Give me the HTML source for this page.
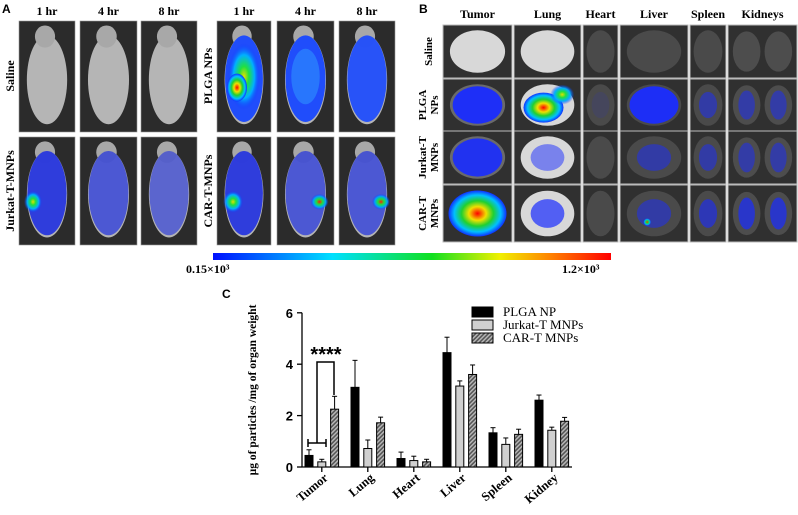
<!DOCTYPE html>
<html><head><meta charset="utf-8"><style>
body{margin:0;background:#fff;width:798px;height:515px;overflow:hidden;font-family:"Liberation Serif",serif}
svg{display:block}
</style></head><body>
<svg id="fig" width="798" height="515" viewBox="0 0 798 515">
<defs>
<linearGradient id="cbar" x1="0" x2="1" y1="0" y2="0">
<stop offset="0" stop-color="#0010ff"/><stop offset="0.3" stop-color="#00e0ff"/><stop offset="0.55" stop-color="#10e020"/><stop offset="0.72" stop-color="#f0f000"/><stop offset="0.85" stop-color="#ff8000"/><stop offset="1" stop-color="#ff0000"/>
</linearGradient>
<radialGradient id="hot"><stop offset="0" stop-color="#ff0000"/><stop offset="0.3" stop-color="#f0e000"/><stop offset="0.55" stop-color="#20d030"/><stop offset="0.8" stop-color="#00c0ff"/><stop offset="1" stop-color="#1030ff"/></radialGradient>
<radialGradient id="warm"><stop offset="0" stop-color="#e0e000"/><stop offset="0.3" stop-color="#20e040"/><stop offset="0.65" stop-color="#00b0ff"/><stop offset="1" stop-color="#1030ff" stop-opacity="0"/></radialGradient>
<radialGradient id="spot"><stop offset="0" stop-color="#ff2000"/><stop offset="0.35" stop-color="#20e040"/><stop offset="0.7" stop-color="#00a0ff"/><stop offset="1" stop-color="#1030ff" stop-opacity="0"/></radialGradient>
<pattern id="hatch" width="3" height="3" patternUnits="userSpaceOnUse" patternTransform="rotate(45)"><rect width="3" height="3" fill="#555"/><rect width="1.4" height="3" fill="#bbb"/></pattern>
</defs>
<g id="panelA"></g>
<g id="panelB"></g>
<g>
<rect x="213" y="253" width="398" height="7" fill="url(#cbar)"/>
<text x="186" y="273" font-size="12" font-weight="bold">0.15×10³</text>
<text x="562" y="273" font-size="12" font-weight="bold">1.2×10³</text>
</g>
<g id="chart"></g>
</svg>
<script>
const NS="http://www.w3.org/2000/svg";
function mk(p,t,a,txt){const e=document.createElementNS(NS,t);for(const k in a)e.setAttribute(k,a[k]);if(txt!==undefined)e.textContent=txt;p.appendChild(e);return e;}
// ---- Panel A ----
const A=document.getElementById('panelA');
mk(A,'text',{x:2,y:13,'font-size':12,'font-weight':'bold','font-family':'Liberation Sans, sans-serif'},'A');
const colsA=[[19,56],[80,57],[141,56],[217,54],[277,57],[339,56]];
const rowsA=[[21,111],[137,108]];
const hrs=['1 hr','4 hr','8 hr'];
colsA.forEach((c,i)=>{const t=mk(A,'text',{x:c[0]+c[1]/2,y:15,'font-size':12,'font-weight':'bold','text-anchor':'middle'},hrs[i%3]);});
[['Saline',10,76],['Jurkat-T-MNPs',10,191],['PLGA NPs',208,76],['CAR-T-MNPs',208,191]].forEach(l=>{
 const t=mk(A,'text',{x:0,y:0,'font-size':12,'font-weight':'bold','text-anchor':'middle',transform:`translate(${l[1]+4},${l[2]}) rotate(-90)`},l[0]);
 });
// overlays per [row][col]: type
const ov=[[null,null,null,'plga1','plga4','plga8'],['j1','j4','j8','c1','c4','c8']];
rowsA.forEach((r,ri)=>colsA.forEach((c,ci)=>{
 const g=mk(A,'g',{});
 
 
 const x=c[0],y=r[0],w=c[1],h=r[1],cx=x+w/2;
 mk(g,'rect',{x,y,width:w,height:h,fill:'#2b2b2b',stroke:'#999','stroke-width':0.6});
 mk(g,'ellipse',{cx,cy:y+h*0.53,rx:w*0.36,ry:h*0.4,fill:'#b5b5b5'});
 mk(g,'ellipse',{cx:cx-2,cy:y+h*0.14,rx:w*0.18,ry:h*0.1,fill:'#a8a8a8'});
 const o=ov[ri][ci];
 if(o){
  const blue=o.startsWith('plga')?'#1848ff':'#2030e0';
  const op={plga1:0.95,plga4:0.95,plga8:0.9,j1:0.9,j4:0.7,j8:0.6,c1:0.9,c4:0.7,c8:0.7}[o];
  mk(g,'ellipse',{cx,cy:y+h*0.52,rx:w*0.35,ry:h*0.39,fill:blue,opacity:op});
  if(o==='plga1'){mk(g,'ellipse',{cx,cy:y+h*0.5,rx:w*0.3,ry:h*0.3,fill:'url(#warm)'});mk(g,'ellipse',{cx:cx-7,cy:y+h*0.6,rx:10,ry:14,fill:'url(#hot)'});}
  if(o==='plga4'){mk(g,'ellipse',{cx,cy:y+h*0.5,rx:w*0.25,ry:h*0.25,fill:'#30a0ff',opacity:0.5});}
  if(o==='j1'){mk(g,'ellipse',{cx:cx-14,cy:y+h*0.6,rx:9,ry:11,fill:'url(#warm)'});}
  if(o==='c1'){mk(g,'ellipse',{cx:cx-11,cy:y+h*0.6,rx:10,ry:11,fill:'url(#warm)'});}
  if(o==='c4'||o==='c8'){mk(g,'ellipse',{cx:cx+14,cy:y+h*0.6,rx:9,ry:8,fill:'url(#spot)'});}
 }
}));
// ---- Panel B ----
const B=document.getElementById('panelB');
mk(B,'text',{x:419,y:13,'font-size':12,'font-weight':'bold','font-family':'Liberation Sans, sans-serif'},'B');
const colsB=[[443,69,'Tumor'],[514,67,'Lung'],[583,35,'Heart'],[620,68,'Liver'],[690,36,'Spleen'],[728,69,'Kidneys']];
const rowsB=[[25,53],[79,52],[131,53],[185,57]];
colsB.forEach(c=>{const t=mk(B,'text',{x:c[0]+c[1]/2,y:18,'font-size':12,'font-weight':'bold','text-anchor':'middle'},c[2]);});
[['Saline'],['PLGA','NPs'],['Jurkat-T','MNPs'],['CAR-T','MNPs']].forEach((l,i)=>{
 const cy=rowsB[i][0]+rowsB[i][1]/2;
 l.forEach((s,j)=>{const t=mk(B,'text',{x:0,y:0,'font-size':11,'font-weight':'bold','text-anchor':'middle',transform:`translate(${428+j*12-(l.length-1)*6+4},${cy}) rotate(-90)`},s);});
});
const blueLvl=[[0,0,0,0,0,0],[0.95,0,0.1,0.95,0.5,0.5],[0.9,0.5,0,0.5,0.5,0.5],[0,0.7,0,0.5,0.6,0.7]];
rowsB.forEach((r,ri)=>colsB.forEach((c,ci)=>{
 const g=mk(B,'g',{});
 
 
 const x=c[0],y=r[0],w=c[1],h=r[1];
 mk(g,'rect',{x,y,width:w,height:h,fill:'#303030',stroke:'#bbb','stroke-width':1});
 const bright=(ci<2)?(ri===0||ci===1?'#d8d8d8':'#6a6a6a'):'#4a4a4a';
 if(ci===5){mk(g,'ellipse',{cx:x+w*0.27,cy:y+h/2,rx:w*0.2,ry:h*0.38,fill:'#4d4d4d'});mk(g,'ellipse',{cx:x+w*0.73,cy:y+h/2,rx:w*0.2,ry:h*0.38,fill:'#4d4d4d'});}
 else mk(g,'ellipse',{cx:x+w/2,cy:y+h/2,rx:w*0.4,ry:h*0.4,fill:bright});
 const b=blueLvl[ri][ci];
 if(b>0){
  if(ci===5){mk(g,'ellipse',{cx:x+w*0.27,cy:y+h/2,rx:w*0.12,ry:h*0.28,fill:'#1a2cff',opacity:b});mk(g,'ellipse',{cx:x+w*0.73,cy:y+h/2,rx:w*0.12,ry:h*0.28,fill:'#1a2cff',opacity:b});}
  else mk(g,'ellipse',{cx:x+w/2,cy:y+h/2,rx:w*0.36*(b>0.8?1:0.7),ry:h*0.36*(b>0.8?1:0.7),fill:'#1a2cff',opacity:b});
 }
 if(ri===1&&ci===1){mk(g,'ellipse',{cx:x+w/2-4,cy:y+h*0.55,rx:20,ry:15,fill:'url(#hot)'});mk(g,'ellipse',{cx:x+w*0.72,cy:y+h*0.3,rx:12,ry:10,fill:'url(#warm)'});}
 if(ri===3&&ci===0){mk(g,'ellipse',{cx:x+w/2,cy:y+h/2,rx:29,ry:23,fill:'url(#hot)'});}
 if(ri===3&&ci===3){mk(g,'circle',{cx:x+w*0.4,cy:y+h*0.65,r:4,fill:'url(#spot)'});}
}));
// ---- Panel C chart ----
const categories=['Tumor','Lung','Heart','Liver','Spleen','Kidney'];
const seriesNames=['PLGA NP','Jurkat-T MNPs','CAR-T MNPs'];
const plgaVals=[0.45,3.1,0.33,4.45,1.33,2.6];
const plgaErr=[0.22,1.05,0.25,0.6,0.2,0.2];
const jurkatVals=[0.2,0.72,0.25,3.15,0.88,1.43];
const jurkatErr=[0.1,0.33,0.17,0.2,0.25,0.12];
const cartVals=[2.25,1.72,0.2,3.6,1.27,1.78];
const cartErr=[0.5,0.22,0.1,0.37,0.2,0.15];
const yTicks=[0,2,4,6];
const C=document.getElementById('chart');
const X0=302,Y0=467,PXU=25.7,GW=46,BW=8,XEND=572;
const ys=v=>Y0-v*PXU;
const xs=(ci,si)=>309+ci*GW+si*12.8;
mk(C,'text',{x:222,y:298,'font-size':12,'font-weight':'bold','font-family':'Liberation Sans, sans-serif'},'C');
const ax=mk(C,'g',{});


mk(ax,'line',{x1:X0,x2:X0,y1:ys(6),y2:Y0,stroke:'#000','stroke-width':1.3});
yTicks.forEach(t=>{mk(ax,'line',{x1:X0-5,x2:X0,y1:ys(t),y2:ys(t),stroke:'#000','stroke-width':1.3});
 const tl=mk(ax,'text',{x:X0-9,y:ys(t)+5,'font-size':13,'font-weight':'bold','text-anchor':'end','font-family':'Liberation Sans, sans-serif'},t);
 });
const xa=mk(C,'line',{x1:X0,x2:XEND,y1:Y0,y2:Y0,stroke:'#000','stroke-width':1.3});

const yt=mk(C,'text',{x:0,y:0,'font-size':11.5,'font-weight':'bold','text-anchor':'middle',transform:'translate(256,390) rotate(-90)'},'µg of particles /mg of organ weight');

const series=[[plgaVals,plgaErr,'#000'],[jurkatVals,jurkatErr,'#d0d0d0'],[cartVals,cartErr,'url(#hatch)']];
categories.forEach((cat,ci)=>{
 const cx=xs(ci,1);
 mk(C,'line',{x1:cx,x2:cx,y1:Y0,y2:Y0+5,stroke:'#000','stroke-width':1.3});
 const tl=mk(C,'text',{x:0,y:0,'font-size':12.5,'font-weight':'bold','text-anchor':'end',transform:`translate(${cx+7},${Y0+12}) rotate(-40)`},cat);
 
 series.forEach((s,si)=>{
  const x=xs(ci,si),v=s[0][ci],e=s[1][ci];
  const bar=mk(C,'rect',{x:x-BW/2,y:ys(v),width:BW,height:v*PXU,fill:s[2],stroke:'#000','stroke-width':1});
  
  
  mk(C,'line',{x1:x,x2:x,y1:ys(v),y2:ys(v+e),stroke:'#000','stroke-width':1});
  mk(C,'line',{x1:x-2.5,x2:x+2.5,y1:ys(v+e),y2:ys(v+e),stroke:'#000','stroke-width':1});
 });
});
// significance
const sg=mk(C,'g',{fill:'none',stroke:'#000','stroke-width':1.5});


mk(sg,'polyline',{points:`317,443 317,362 334,362 334,395`});
mk(sg,'line',{x1:308,x2:326,y1:443,y2:443});
mk(sg,'line',{x1:308,x2:308,y1:439,y2:447});
mk(sg,'line',{x1:326,x2:326,y1:439,y2:447});
const st=mk(C,'text',{x:326,y:361,'font-size':20,'font-weight':'bold','text-anchor':'middle','font-family':'Liberation Sans, sans-serif'},'****');

// legend
const fills=['#000','#d0d0d0','url(#hatch)'];
seriesNames.forEach((n,i)=>{
 const g=mk(C,'g',{});
 
 
 mk(g,'rect',{x:472,y:307+i*13,width:21,height:10,fill:fills[i],stroke:'#000','stroke-width':1});
 mk(g,'text',{x:503,y:316+i*13,'font-size':13},n);
});
</script>
</body></html>
